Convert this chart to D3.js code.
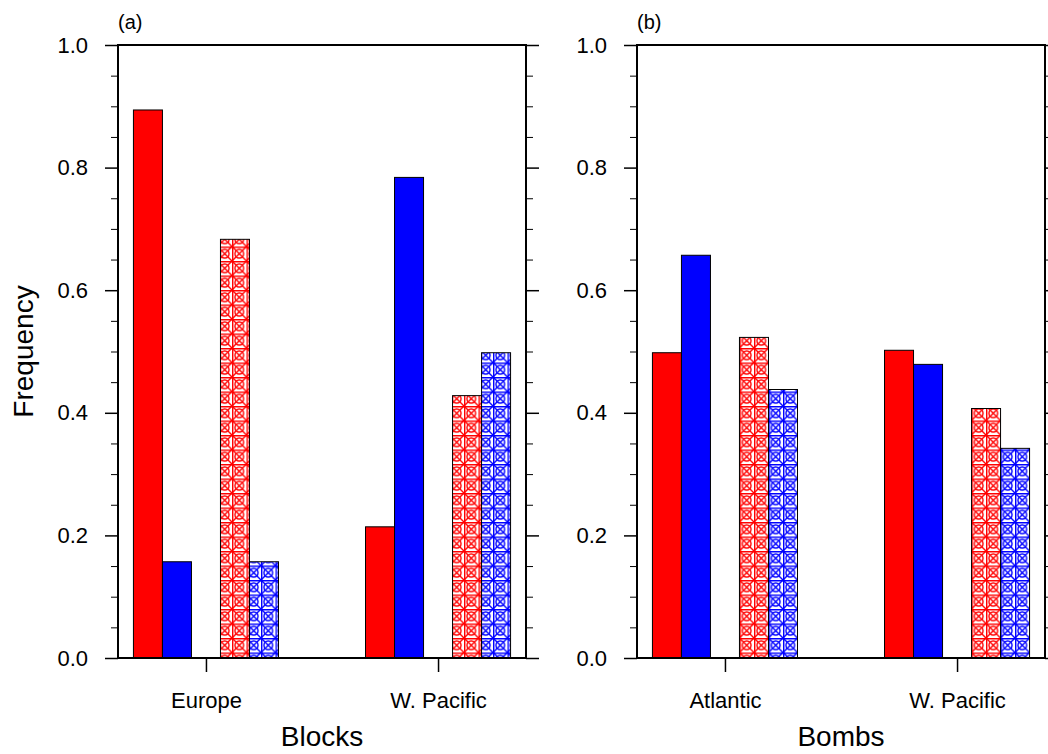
<!DOCTYPE html>
<html>
<head>
<meta charset="utf-8">
<script src="https://cdn.jsdelivr.net/npm/d3@7"></script>
<style>
  body { margin: 0; background: #fff; }
  svg { display: block; font-family: "Liberation Sans", Arial, sans-serif; }
</style>
</head>
<body>
<div id="chart"></div>
<script>
// categories per panel
const blocksCategories = ["Europe", "W. Pacific"];
const bombsCategories = ["Atlantic", "W. Pacific"];

// series values
const blocksRed = [0.894, 0.214];
const blocksBlue = [0.157, 0.784];
const blocksRedHatch = [0.683, 0.428];
const blocksBlueHatch = [0.157, 0.498];

const bombsRed = [0.498, 0.502];
const bombsBlue = [0.657, 0.479];
const bombsRedHatch = [0.523, 0.407];
const bombsBlueHatch = [0.438, 0.342];

const yTicks = [0, 0.2, 0.4, 0.6, 0.8, 1.0];

// the 4 bars per group; slot 0 (the middle) is left empty
const seriesStyle = [
    {slot: -2, color: "#ff0000", hatch: false},
    {slot: -1, color: "#0000ff", hatch: false},
    {slot: 1, color: "#ff0000", hatch: true},
    {slot: 2, color: "#0000ff", hatch: true}
];

const W = 1048, H = 754;
const plotTop = 45, plotBottom = 658;

const svg = d3.select("#chart")
    .append("svg")
    .attr("width", W)
    .attr("height", H);

// hatch patterns (grid + diagonals + ring, like the NCL fill)
const defs = svg.append("defs");
function makeHatch(id, color) {
    const s = 14.5;
    const p = defs.append("pattern")
        .attr("id", id)
        .attr("patternUnits", "userSpaceOnUse")
        .attr("width", s)
        .attr("height", s);
    p.append("rect").attr("width", s).attr("height", s).attr("fill", "#fff");
    const g = p.append("g").attr("stroke", color).attr("stroke-width", 1.4).attr("fill", "none");
    g.append("path").attr("d", `M0,0.7H${s}M0.7,0V${s}`);
    g.append("path").attr("d", `M0,0L${s},${s}M${s},0L0,${s}`);
    g.append("circle").attr("cx", s/2).attr("cy", s/2).attr("r", s * 0.3);
}
makeHatch("hatch-red", "#ff0000");
makeHatch("hatch-blue", "#0000ff");

function drawPanel(left, right, categories, series, tag, xLabel, showYLabel) {
    const g = svg.append("g");

    const x = d3.scaleLinear()
        .domain([0.621, 2.379])
        .range([left, right]);
    const y = d3.scaleLinear()
        .domain([0, 1])
        .range([plotBottom, plotTop]);

    const bw = x(1.125) - x(1);

    // bars
    series.forEach((vals, si) => {
        const st = seriesStyle[si];
        g.selectAll(null)
            .data(vals)
            .enter()
            .append("rect")
            .attr("x", (d, i) => x(i + 1) + (st.slot - 0.5) * bw)
            .attr("y", d => y(d))
            .attr("width", bw)
            .attr("height", d => y(0) - y(d))
            .attr("fill", st.hatch ? (st.color === "#ff0000" ? "url(#hatch-red)" : "url(#hatch-blue)") : st.color)
            .attr("stroke", "#000")
            .attr("stroke-width", 1);
    });

    const minor = d3.range(0, 1.0001, 0.05).filter(v => Math.round(v * 100) % 20 !== 0);

    // left axis
    g.append("g").attr("transform", `translate(${left},0)`)
        .call(d3.axisLeft(y).tickValues(minor).tickSize(7).tickFormat(""))
        .call(a => a.select(".domain").remove())
        .call(a => a.selectAll("line").attr("stroke", "#000").attr("stroke-width", 1));
    g.append("g").attr("transform", `translate(${left},0)`)
        .call(d3.axisLeft(y).tickValues(yTicks).tickSize(13).tickPadding(17).tickFormat(d3.format(".1f")))
        .call(a => a.select(".domain").remove())
        .call(a => a.selectAll("line").attr("stroke", "#000").attr("stroke-width", 1.5))
        .call(a => a.selectAll("text").attr("font-size", 22).attr("fill", "#000")
            .attr("font-family", "'Liberation Sans', Arial, sans-serif"));

    // right axis
    g.append("g").attr("transform", `translate(${right},0)`)
        .call(d3.axisRight(y).tickValues(minor).tickSize(7).tickFormat(""))
        .call(a => a.select(".domain").remove())
        .call(a => a.selectAll("line").attr("stroke", "#000").attr("stroke-width", 1));
    g.append("g").attr("transform", `translate(${right},0)`)
        .call(d3.axisRight(y).tickValues(yTicks).tickSize(13).tickFormat(""))
        .call(a => a.select(".domain").remove())
        .call(a => a.selectAll("line").attr("stroke", "#000").attr("stroke-width", 1.5));

    // bottom axis
    g.append("g").attr("transform", `translate(0,${plotBottom})`)
        .call(d3.axisBottom(x).tickValues([1, 2]).tickSize(14).tickPadding(20)
            .tickFormat((d, i) => categories[i]))
        .call(a => a.select(".domain").remove())
        .call(a => a.selectAll("line").attr("stroke", "#000").attr("stroke-width", 1.5))
        .call(a => a.selectAll("text").attr("font-size", 22).attr("fill", "#000")
            .attr("font-family", "'Liberation Sans', Arial, sans-serif"));

    // frame
    g.append("rect")
        .attr("x", left)
        .attr("y", plotTop)
        .attr("width", right - left)
        .attr("height", plotBottom - plotTop)
        .attr("fill", "none")
        .attr("stroke", "#000")
        .attr("stroke-width", 2);

    g.append("text")
        .attr("x", left)
        .attr("y", 29)
        .attr("font-size", 20)
        .text(tag);

    g.append("text")
        .attr("x", (left + right) / 2)
        .attr("y", 746)
        .attr("text-anchor", "middle")
        .attr("font-size", 28)
        .text(xLabel);

    if (showYLabel) {
        g.append("text")
            .attr("transform", `translate(33,${(plotTop + plotBottom) / 2}) rotate(-90)`)
            .attr("text-anchor", "middle")
            .attr("font-size", 28)
            .text("Frequency");
    }
}

drawPanel(118, 526, blocksCategories,
    [blocksRed, blocksBlue, blocksRedHatch, blocksBlueHatch], "(a)", "Blocks", true);
drawPanel(637, 1045, bombsCategories,
    [bombsRed, bombsBlue, bombsRedHatch, bombsBlueHatch], "(b)", "Bombs", false);
</script>
</body>
</html>
